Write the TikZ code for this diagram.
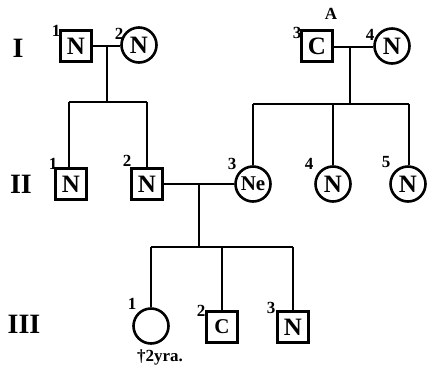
\documentclass[tikz,border=0pt]{standalone}
\usepackage{fontspec}
\setmainfont{Liberation Serif}
\begin{document}
\begin{tikzpicture}[x=1pt,y=-1pt,line width=2pt,
  sq/.style={draw,line width=2.6pt,minimum size=31pt,inner sep=0pt,font=\fontsize{25}{25}\selectfont\bfseries},
  ci/.style={draw,circle,line width=2.6pt,minimum size=35pt,inner sep=0pt,font=\fontsize{25}{25}\selectfont\bfseries},
  num/.style={inner sep=0pt,font=\fontsize{17}{17}\selectfont\bfseries},
  gen/.style={inner sep=0pt,font=\fontsize{28}{28}\selectfont\bfseries}]
\useasboundingbox (0,0) rectangle (427,368);
% generation labels
\node[gen] (g1) at (18,48) {I};
\node[gen] (g2) at (21,184) {II};
\node[gen] (g3) at (24,324) {III};
% generation I
\node[sq] (a1) at (76,46) {N};
\node[ci] (a2) at (139,45) {N};
\node[sq] (a3) at (317,46) {C};
\node[ci] (a4) at (392,46) {N};
% generation II
\node[sq] (b1) at (71,184) {N};
\node[sq] (b2) at (147,184) {N};
\node[ci,font=\fontsize{21}{21}\selectfont\bfseries] (b3) at (253,184) {Ne};
\node[ci] (b4) at (333,184) {N};
\node[ci] (b5) at (408,184) {N};
% generation III
\node[ci] (c1) at (151,326) {};
\node[sq,font=\fontsize{21}{21}\selectfont\bfseries] (c2) at (222,327) {C};
\node[sq] (c3) at (293,327) {N};
% numbers
\node[num] (na1) at (56,31) {1};
\node[num] (na2) at (119,34) {2};
\node[num] (na3) at (297,33) {3};
\node[num] (nA) at (331,14) {A};
\node[num] (na4) at (370,35) {4};
\node[num] (nb1) at (53,164) {1};
\node[num] (nb2) at (127,161) {2};
\node[num] (nb3) at (232,164) {3};
\node[num] (nb4) at (309,164) {4};
\node[num] (nb5) at (386,162) {5};
\node[num] (nc1) at (132,304) {1};
\node[num] (nc2) at (201,311) {2};
\node[num] (nc3) at (271,308) {3};
\node[inner sep=0pt,font=\fontsize{17}{17}\selectfont\bfseries] (d1) at (160,357) {†2yra.};
% connectors family 1
\coordinate (m1) at (107,46);
\coordinate (s1) at (107,102);
\coordinate (s1l) at (69,102);
\coordinate (s1r) at (147,102);
\draw (a1.east |- m1) -- (a2.west |- m1);
\draw (m1) -- (s1);
\draw (s1l) -- (s1r);
\draw (s1l) -- (s1l |- b1.north);
\draw (s1r) -- (b2.north);
% connectors family 2
\coordinate (m2) at (350,47);
\coordinate (s2) at (350,104);
\coordinate (s2l) at (253,104);
\coordinate (s2m) at (333,104);
\coordinate (s2r) at (409,104);
\draw (a3.east |- m2) -- (a4.west |- m2);
\draw (m2) -- (s2);
\draw (s2l) -- (s2r);
\draw (s2l) -- (b3.north);
\draw (s2m) -- (b4.north);
\draw (s2r) -- (s2r |- b5.north);
% connectors family 3
\coordinate (m3) at (199,184);
\coordinate (s3) at (199,247);
\coordinate (s3l) at (151,247);
\coordinate (s3m) at (222,247);
\coordinate (s3r) at (293,247);
\draw (b2.east) -- (b3.west);
\draw (m3) -- (s3);
\draw (s3l) -- (s3r);
\draw (s3l) -- (c1.north);
\draw (s3m) -- (c2.north);
\draw (s3r) -- (c3.north);
\end{tikzpicture}
\end{document}
